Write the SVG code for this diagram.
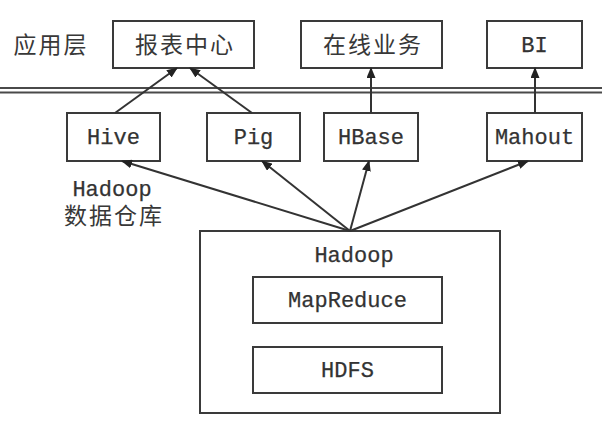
<svg xmlns="http://www.w3.org/2000/svg" width="602" height="426" viewBox="0 0 602 426">
<style>
.box{fill:#fff;stroke:#3a3a3a;stroke-width:2}
.cjk{font-family:"Liberation Serif","Noto Sans CJK SC",serif;font-size:23px;fill:#383838;letter-spacing:2px}
.lat{font-family:"Liberation Mono",monospace;font-size:22px;fill:#333;stroke:#333;stroke-width:0.25}
.c{stroke:#333;stroke-width:2;fill:none;marker-end:url(#ah)}
.sep{stroke:#4a4a4a;stroke-width:1.8}
</style>
<defs>
<marker id="ah" markerUnits="userSpaceOnUse" markerWidth="11" markerHeight="9" refX="10" refY="4.5" orient="auto">
<path d="M0,0 L11,4.5 L0,9 z" fill="#222"/>
</marker>
</defs>
<rect width="602" height="426" fill="#fff"/>
<g id="layer-label"><text class="cjk" x="51" y="53" text-anchor="middle">应用层</text></g>
<g id="separator"><line class="sep" x1="0" y1="88" x2="602" y2="88"/><line class="sep" x1="0" y1="92.5" x2="602" y2="92.5"/></g>
<g id="report"><rect class="box" x="113" y="21" width="141" height="47"/><text class="cjk" x="185" y="53" text-anchor="middle">报表中心</text></g>
<g id="online"><rect class="box" x="301" y="21" width="141" height="47"/><text class="cjk" x="373" y="53" text-anchor="middle">在线业务</text></g>
<g id="bi"><rect class="box" x="487" y="21" width="95" height="47"/><text class="lat" x="534.5" y="52" text-anchor="middle">BI</text></g>
<g id="hive"><rect class="box" x="67" y="113" width="93" height="48"/><text class="lat" x="113.5" y="144" text-anchor="middle">Hive</text></g>
<g id="pig"><rect class="box" x="207" y="113" width="93" height="48"/><text class="lat" x="253.5" y="144" text-anchor="middle">Pig</text></g>
<g id="hbase"><rect class="box" x="324" y="113" width="94" height="48"/><text class="lat" x="371" y="144" text-anchor="middle">HBase</text></g>
<g id="mahout"><rect class="box" x="487" y="113" width="95" height="48"/><text class="lat" x="534.5" y="144" text-anchor="middle">Mahout</text></g>
<g id="hive-label"><text class="lat" x="112" y="196" text-anchor="middle">Hadoop</text><text class="cjk" x="114" y="224" text-anchor="middle">数据仓库</text></g>
<g id="hadoop"><rect class="box" x="200" y="231" width="300" height="182"/><text class="lat" x="354" y="262" text-anchor="middle">Hadoop</text>
<g id="mapreduce"><rect class="box" x="253" y="277" width="189" height="46"/><text class="lat" x="347.5" y="307" text-anchor="middle">MapReduce</text></g>
<g id="hdfs"><rect class="box" x="253" y="347" width="189" height="46"/><text class="lat" x="347.5" y="377" text-anchor="middle">HDFS</text></g>
</g>
<g id="connectors">
<line class="c" x1="350" y1="231" x2="122" y2="161"/>
<line class="c" x1="350" y1="231" x2="262" y2="161"/>
<line class="c" x1="350" y1="231" x2="369" y2="161"/>
<line class="c" x1="350" y1="231" x2="528" y2="161"/>
<line class="c" x1="115" y1="113" x2="177" y2="68"/>
<line class="c" x1="252" y1="113" x2="190" y2="68"/>
<line class="c" x1="371" y1="113" x2="371" y2="68"/>
<line class="c" x1="535" y1="113" x2="535" y2="68"/>
</g>
</svg>
